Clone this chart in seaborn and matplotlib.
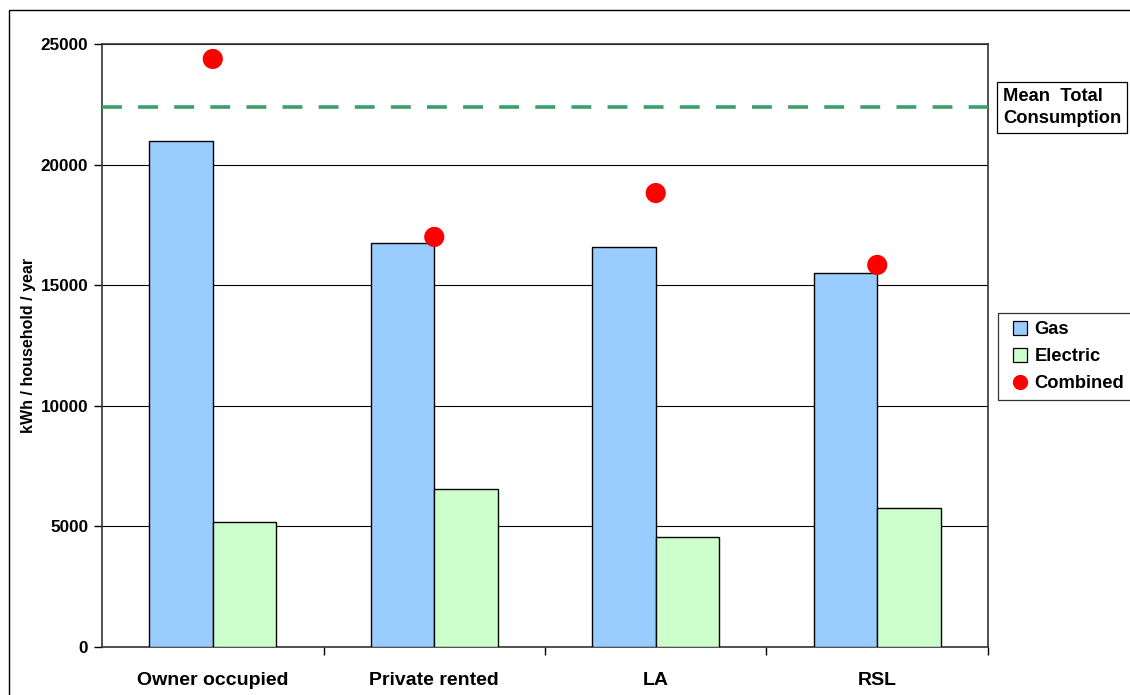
import matplotlib
matplotlib.use("Agg")
from matplotlib import pyplot as plt
from matplotlib.lines import Line2D
from matplotlib.patches import Rectangle
import pandas as pd
import seaborn as sns

# Values
tenures = ["Owner occupied", "Private rented", "LA", "RSL"]
gas = [20980, 16750, 16580, 15510]
electric = [5180, 6550, 4560, 5760]
combined = [24380, 17000, 18820, 15840]
mean_total = 22380

sns.set_theme(style="white")
plt.rcParams["font.family"] = ["Liberation Sans", "DejaVu Sans"]
plt.rcParams["font.weight"] = "bold"
plt.rcParams["text.color"] = "black"
plt.rcParams["axes.labelcolor"] = "black"
plt.rcParams["xtick.color"] = "black"
plt.rcParams["ytick.color"] = "black"

bars = pd.DataFrame(
    {
        "tenure": tenures * 2,
        "fuel": ["Gas"] * 4 + ["Electric"] * 4,
        "kwh": gas + electric,
    }
)
dots = pd.DataFrame({"tenure": tenures, "kwh": combined})

fig = plt.figure(figsize=(11.3, 6.95), dpi=100)
ax = fig.add_axes([0.0903, 0.0691, 0.7840, 0.8676])

sns.barplot(
    data=bars,
    x="tenure",
    y="kwh",
    hue="fuel",
    palette={"Gas": "#99CCFF", "Electric": "#CCFFCC"},
    saturation=1,
    width=0.575,
    edgecolor="black",
    linewidth=1.0,
    errorbar=None,
    legend=False,
    ax=ax,
    zorder=3,
)
sns.scatterplot(data=dots, x="tenure", y="kwh", color="#FF0000", s=210, edgecolor="none", ax=ax, zorder=4)

ax.axhline(mean_total, color="#3C9F6A", linewidth=2.6, linestyle=(0, (5.5, 4.5)), zorder=5)

# Axes look
ax.set_xlim(-0.5, 3.5)
ax.set_ylim(0, 25000)
ax.set_yticks(range(0, 25001, 5000))
ax.yaxis.grid(True, color="black", linewidth=0.8)
ax.set_axisbelow(True)
for s in ax.spines.values():
    s.set_color("#333333")
    s.set_linewidth(1.2)
ax.set_xlabel("")
ax.set_ylabel("kWh / household / year", fontsize=11.5, fontweight="bold", labelpad=3)
ax.set_xticks([0, 1, 2, 3])
ax.set_xticklabels(tenures, fontsize=14, fontweight="bold")
ax.set_xticks([0.5, 1.5, 2.5, 3.5], minor=True)
ax.tick_params(axis="x", which="major", length=0, pad=18)
ax.tick_params(axis="x", which="minor", length=6, width=1, color="black", direction="out", bottom=True)
ax.tick_params(axis="y", length=6, width=1, color="black", direction="out", left=True, labelsize=12.3, pad=4)
for t in ax.get_yticklabels():
    t.set_fontweight("bold")

# Legends on the right
fig.text(
    0.8875, 0.874, "Mean  Total\nConsumption", fontsize=13.2, fontweight="bold",
    va="top", ha="left", linespacing=1.45,
    bbox=dict(boxstyle="square,pad=0.3", facecolor="white", edgecolor="black", linewidth=0.9),
)
handles = [
    Line2D([], [], marker="s", color="none", markerfacecolor="#99CCFF", markeredgecolor="black",
           markeredgewidth=0.9, markersize=9.5, label="Gas"),
    Line2D([], [], marker="s", color="none", markerfacecolor="#CCFFCC", markeredgecolor="black",
           markeredgewidth=0.9, markersize=9.5, label="Electric"),
    Line2D([], [], marker="o", color="none", markerfacecolor="#FF0000", markeredgecolor="none",
           markersize=11, label="Combined"),
]
leg = fig.legend(
    handles=handles, loc="upper left", bbox_to_anchor=(0.883, 0.550), frameon=True,
    fancybox=False, edgecolor="black", fontsize=13.2, handlelength=1.5,
    handletextpad=0.05, borderpad=0.45, labelspacing=0.55, borderaxespad=0,
)
leg.get_frame().set_linewidth(0.9)
for t in leg.get_texts():
    t.set_fontweight("bold")

# Outer chart frame
fig.patches.append(
    Rectangle((0.008, -0.05), 1.1, 1.036, transform=fig.transFigure, fill=False,
              edgecolor="black", linewidth=1.0)
)

fig.savefig("out.png", dpi=100)
